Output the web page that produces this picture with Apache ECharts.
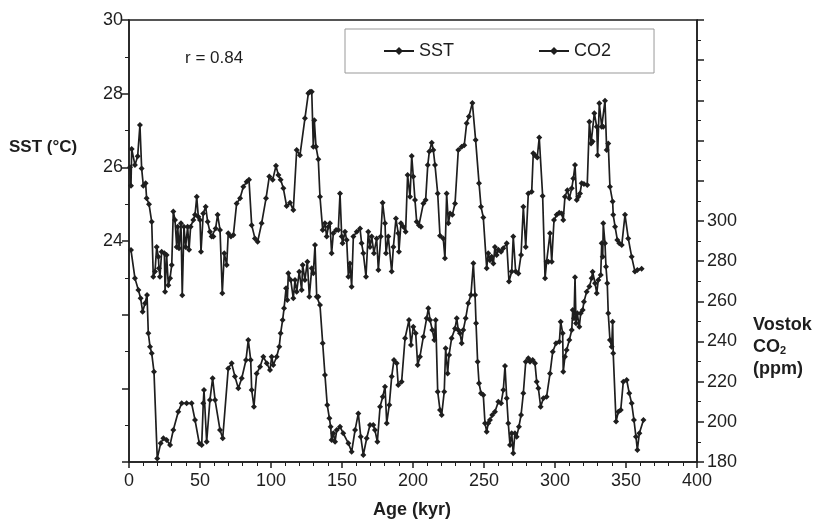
<!DOCTYPE html>
<html>
<head>
<meta charset="utf-8">
<title>SST vs CO2</title>
<script src="https://cdn.jsdelivr.net/npm/echarts@6/dist/echarts.min.js"></script>
</head>
<body style="margin:0;background:#fff;">
<div id="main" style="width:817px;height:521px;"></div>
<script type="text/javascript">
// SST record (age in kyr, degrees C)
var sstAge = [0.7,1.4,1.9,4.2,6.1,7.7,8.9,10.1,11.7,12.4,14.1,16.0,17.1,18.3,19.5,20.7,21.1,21.8,23.0,24.9,25.4,26.5,27.7,28.9,30.1,31.2,32.4,33.6,34.3,35.2,36.6,37.5,38.7,39.9,41.3,42.3,43.4,45.3,46.5,47.7,48.8,50.0,50.7,52.3,54.0,55.4,57.0,58.2,59.4,61.0,62.4,64.1,65.7,67.1,68.8,69.9,71.8,73.5,75.8,78.2,80.5,82.9,84.5,86.4,88.7,90.6,93.4,96.5,98.8,101.2,103.5,105.2,106.8,108.7,111.0,113.4,115.7,118.1,120.4,123.9,126.3,127.5,128.7,129.8,130.5,131.7,133.3,134.5,136.4,138.0,139.2,140.4,141.5,142.7,143.9,145.8,147.4,148.6,149.8,150.4,152.1,153.3,154.5,155.6,156.8,158.0,160.4,162.7,163.8,165.0,166.9,168.5,169.7,170.9,172.5,174.4,175.6,177.3,178.6,180.3,181.0,182.6,185.0,186.2,188.0,189.6,190.1,191.5,193.2,194.8,196.2,197.9,199.1,200.2,201.4,202.6,204.2,205.6,207.3,208.9,210.4,211.5,213.2,214.3,215.5,217.4,219.0,221.3,222.5,223.7,224.9,226.1,227.7,229.6,231.9,234.3,236.1,237.8,239.4,241.8,244.1,246.5,247.9,249.5,251.9,253.0,254.2,255.4,256.6,257.7,258.9,260.1,262.0,263.6,266.0,267.6,269.5,270.6,272.3,274.2,276.1,277.7,279.4,281.2,283.6,284.7,285.9,287.5,288.9,291.3,293.0,294.1,295.3,296.5,297.7,299.3,301.2,303.0,304.7,305.8,307.0,308.7,310.1,311.8,312.9,314.1,315.3,316.4,317.6,318.8,320.4,322.7,324.2,325.4,326.5,327.7,329.4,330.0,331.2,332.9,334.0,335.2,336.4,337.5,338.7,340.6,341.0,342.3,343.9,345.3,347.0,349.3,351.6,354.0,356.3,358.0,361.0];
var sstVal = [26.0,25.5,26.5,26.06,26.3,27.15,25.97,25.5,25.57,25.16,25.0,24.52,23.03,23.17,23.84,23.57,23.26,23.03,23.71,23.67,22.62,23.62,22.8,22.99,23.35,24.8,24.57,23.84,24.39,23.8,24.48,22.53,24.39,23.84,24.39,23.76,24.39,24.57,24.71,25.2,24.66,24.57,23.71,24.75,24.93,24.52,24.25,24.12,24.12,24.34,24.71,24.3,22.58,23.67,23.35,24.21,24.12,24.16,25.02,25.16,25.47,25.61,25.66,24.43,24.07,23.98,24.48,25.16,25.75,25.66,26.04,25.79,25.66,25.43,24.95,25.04,24.84,26.47,26.33,27.33,28.01,28.05,28.05,26.56,27.28,26.56,26.22,25.2,24.3,24.48,24.12,24.39,24.48,23.67,24.21,24.3,24.3,25.29,24.12,23.94,24.25,24.03,23.03,23.39,22.76,24.12,24.25,24.34,23.94,23.67,23.03,24.25,23.84,24.12,23.67,24.07,23.21,24.12,25.04,24.48,23.67,24.12,23.17,23.84,24.61,24.21,23.71,24.48,24.39,24.25,25.79,25.2,26.31,25.75,25.11,24.52,24.43,24.39,25.02,25.11,26.06,26.43,26.67,26.47,26.06,25.29,24.14,24.07,23.53,25.29,24.48,24.75,24.71,25.02,26.47,26.56,26.6,27.2,27.38,27.75,26.74,25.57,24.93,24.64,23.26,23.67,23.48,23.57,23.39,23.84,23.62,23.76,23.71,23.8,23.94,22.9,23.17,24.12,23.17,23.12,23.62,24.93,23.84,25.29,25.34,26.38,26.33,26.27,26.81,25.22,22.99,23.44,23.44,24.21,23.44,24.57,24.71,24.77,24.75,24.57,25.2,25.38,25.16,25.43,25.7,26.06,25.11,25.2,25.29,25.57,25.55,25.52,27.24,26.65,26.7,27.47,27.1,26.33,27.74,27.1,27.1,27.81,26.47,26.65,25.47,25.07,24.71,24.39,24.03,23.94,23.89,24.71,24.07,23.57,23.17,23.21,23.25];

// Vostok CO2 record (age in kyr, ppm)
var co2Age = [1.4,4.2,6.6,8.2,9.6,11.3,12.7,13.6,14.8,16.0,17.6,19.9,22.3,24.2,26.5,28.9,31.2,34.7,37.1,40.6,44.1,46.5,49.5,51.2,52.3,52.8,54.7,57.0,58.9,60.6,64.1,66.0,69.9,72.3,74.6,77.0,79.4,82.4,84.0,85.7,86.4,88.0,89.9,92.3,94.6,97.0,99.3,100.5,101.6,104.0,105.8,106.8,108.2,109.2,110.6,111.5,112.2,113.9,115.7,116.9,118.1,119.9,121.6,122.3,123.9,125.6,127.0,128.7,129.8,131.0,132.2,133.3,134.5,136.4,138.0,139.6,141.1,142.0,142.7,143.9,145.1,146.3,148.6,150.9,154.5,156.8,159.2,161.5,163.2,165.0,167.4,169.7,172.0,173.2,174.9,176.8,178.7,180.3,181.5,183.3,185.0,186.6,188.5,189.6,192.0,194.4,197.2,198.6,200.2,201.9,203.3,204.9,207.3,209.6,210.8,212.0,213.6,215.0,216.0,217.4,219.0,220.2,222.0,223.0,224.4,225.4,227.2,229.6,230.8,231.9,233.1,234.3,235.4,237.1,238.9,240.8,242.5,243.7,244.4,245.5,246.5,247.9,249.5,250.7,251.9,253.0,254.2,255.8,257.7,260.1,262.0,263.6,264.8,266.0,267.1,268.3,269.5,270.6,271.8,273.0,274.6,276.1,277.7,279.4,281.2,282.4,284.3,285.9,287.1,288.3,289.9,291.8,294.1,296.5,298.4,300.7,303.1,304.0,305.4,305.8,307.0,308.2,310.1,311.8,312.5,313.4,314.1,314.8,315.7,317.1,318.1,319.5,320.4,322.3,324.2,325.8,326.5,328.2,329.4,330.5,332.2,332.9,333.6,334.0,335.2,335.9,336.8,337.5,338.7,339.9,340.6,341.0,343.0,344.6,346.3,348.1,350.5,352.3,354.0,355.6,357.0,358.0,359.4,362.3];
var co2Val = [285.5,271.4,265.6,261.5,254.8,259.0,263.1,244.1,237.4,234.1,224.9,181.8,189.3,191.8,191.0,188.5,195.9,205.0,209.2,209.2,209.2,200.9,189.3,188.5,209.2,215.8,190.1,210.9,221.7,210.9,195.9,191.8,226.6,229.1,222.5,216.7,221.7,230.8,240.7,230.8,215.8,207.5,224.1,227.4,232.4,229.1,225.8,232.4,228.3,232.4,237.4,244.1,250.7,256.5,266.5,260.6,273.9,270.6,261.5,270.6,264.8,274.7,265.6,278.1,270.6,279.7,262.3,276.4,273.9,288.0,262.3,262.3,258.1,239.1,223.3,208.4,201.8,197.6,191.0,194.3,190.1,195.9,197.6,194.3,189.3,185.1,195.9,204.2,192.6,183.5,191.8,198.4,198.4,195.9,190.1,207.5,212.5,217.5,199.3,208.4,222.5,230.8,229.1,218.3,220.0,241.6,250.7,238.2,247.3,244.1,228.3,232.4,242.4,251.5,256.5,250.7,245.7,240.7,250.7,215.0,205.9,203.4,215.0,236.6,224.1,233.3,241.6,246.5,251.5,245.7,244.1,239.1,245.7,251.5,259.0,263.1,278.9,263.1,249.0,229.9,219.2,214.2,213.4,199.3,195.1,199.3,200.9,203.4,205.0,210.0,209.2,215.8,227.8,211.7,199.3,188.5,194.3,184.3,194.3,192.6,197.6,203.4,214.2,229.9,231.6,229.9,230.8,229.1,220.0,216.7,207.5,211.7,212.5,224.1,234.9,239.1,239.9,249.8,244.1,224.9,232.4,235.7,240.7,245.7,255.7,251.5,271.9,249.0,254.0,247.3,254.0,255.7,259.8,264.8,267.3,271.4,274.7,269.0,264.0,270.6,273.1,288.9,282.2,298.8,288.9,277.2,269.0,254.0,240.7,237.4,249.8,234.1,200.1,205.0,205.9,220.0,220.8,214.2,209.2,200.9,192.6,186.0,194.3,200.9];

var seriesNames = ['SST', 'CO2'];

var font = 'Liberation Sans, Arial, Helvetica, sans-serif';
var ink = '#1e1e1e';

function pairs(xs, ys) {
	var out = [];
	for (var i = 0; i < xs.length; i++) {
		out.push([xs[i], ys[i]]);
	}
	return out;
}

var myChart = echarts.init(document.getElementById('main'), null, { renderer: 'canvas' });

var option = {
	animation: false,
	backgroundColor: '#fff',
	textStyle: { fontFamily: font, color: ink },
	grid: {
		left: 129, right: 120, top: 20, bottom: 59,
		show: true, borderColor: ink, borderWidth: 1.5, backgroundColor: 'transparent'
	},
	legend: {
		left: 345, top: 29,
		data: seriesNames,
		itemWidth: 30, itemHeight: 10, itemGap: 84,
		padding: [13, 43, 13, 38],
		borderColor: '#999', borderWidth: 1,
		backgroundColor: '#fff',
		textStyle: { fontSize: 18, color: ink, fontFamily: font }
	},
	xAxis: {
		type: 'value', min: 0, max: 400, interval: 50,
		axisLine: { lineStyle: { color: ink, width: 1.5 } },
		axisTick: { length: 6, lineStyle: { color: ink, width: 1.5 } },
		minorTick: { show: true, splitNumber: 5, length: 4, lineStyle: { color: ink, width: 1 } },
		splitLine: { show: false },
		axisLabel: { fontSize: 18, color: ink, margin: 10, fontFamily: font }
	},
	yAxis: [{
		type: 'value', min: 18, max: 30, interval: 2, position: 'left',
		axisLine: { show: true, lineStyle: { color: ink, width: 1.5 } },
		axisTick: { show: true, length: 7, lineStyle: { color: ink, width: 1.5 } },
		minorTick: { show: true, splitNumber: 2, length: 4, lineStyle: { color: ink, width: 1 } },
		splitLine: { show: false },
		axisLabel: {
			fontSize: 18, color: ink, margin: 6, fontFamily: font,
			formatter: function (v) { return v >= 24 ? String(v) : ''; }
		}
	}, {
		type: 'value', min: 180, max: 400, interval: 20, position: 'right',
		axisLine: { show: true, lineStyle: { color: ink, width: 1.5 } },
		axisTick: { show: true, length: 7, lineStyle: { color: ink, width: 1.5 } },
		minorTick: { show: true, splitNumber: 2, length: 4, lineStyle: { color: ink, width: 1 } },
		splitLine: { show: false },
		axisLabel: {
			fontSize: 18, color: ink, margin: 10, fontFamily: font,
			formatter: function (v) { return v <= 300 ? String(v) : ''; }
		}
	}],
	graphic: [
		{ type: 'text', left: 185, top: 50, style: { text: 'r = 0.84', font: '17px ' + font, fill: ink } },
		{ type: 'text', left: 9, top: 139, style: { text: 'SST (°C)', font: 'bold 17px ' + font, fill: ink } },
		{ type: 'text', left: 373, top: 501, style: { text: 'Age (kyr)', font: 'bold 18px ' + font, fill: ink } },
		{ type: 'text', left: 753, top: 316, style: { text: 'Vostok', font: 'bold 18px ' + font, fill: ink } },
		{
			type: 'text', left: 753, top: 338,
			style: {
				text: '{a|CO}{s|2}',
				rich: {
					a: { font: 'bold 18px ' + font, fill: ink },
					s: { font: 'bold 11px ' + font, fill: ink, padding: [8, 0, 0, 0] }
				}
			}
		},
		{ type: 'text', left: 753, top: 360, style: { text: '(ppm)', font: 'bold 18px ' + font, fill: ink } }
	],
	series: [{
		name: 'SST',
		type: 'line',
		yAxisIndex: 0,
		data: pairs(sstAge, sstVal),
		symbol: 'diamond', symbolSize: 6, showAllSymbol: true,
		lineStyle: { color: ink, width: 1.7 },
		itemStyle: { color: ink }
	}, {
		name: 'CO2',
		type: 'line',
		yAxisIndex: 1,
		data: pairs(co2Age, co2Val),
		symbol: 'diamond', symbolSize: 6, showAllSymbol: true,
		lineStyle: { color: ink, width: 1.7 },
		itemStyle: { color: ink }
	}]
};

myChart.setOption(option);
</script>
</body>
</html>
